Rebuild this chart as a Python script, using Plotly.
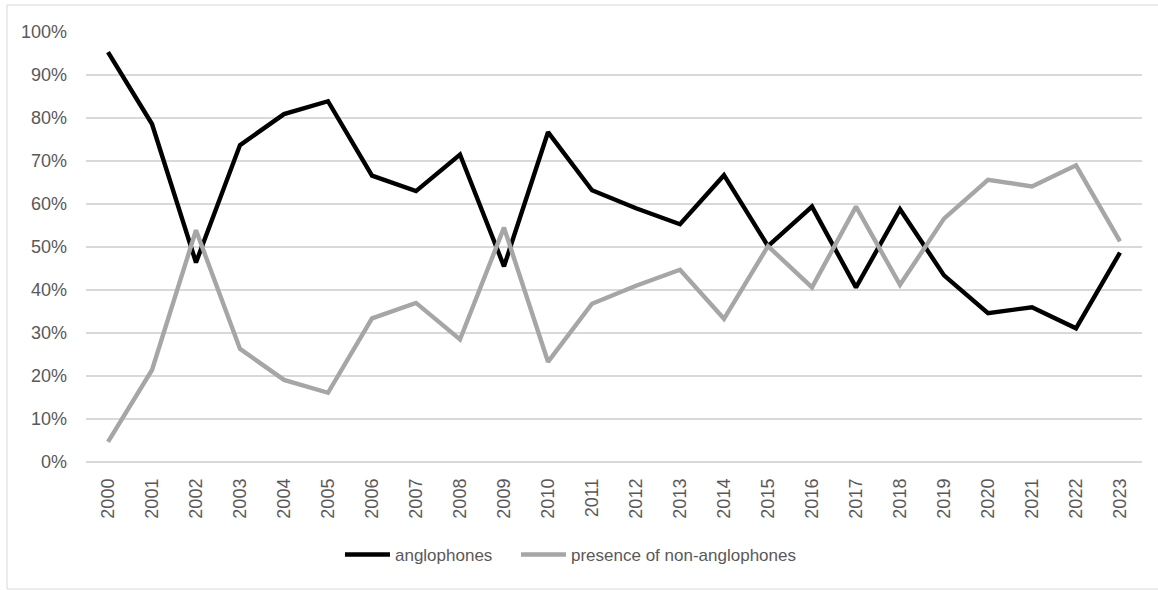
import plotly.graph_objects as go

years = [str(y) for y in range(2000, 2024)]

anglophones = [95.3, 78.6, 46.4, 73.7, 80.9, 83.9, 66.6, 63.0, 71.5, 45.5, 76.7, 63.2,
               59.0, 55.3, 66.7, 50.2, 59.4, 40.6, 58.8, 43.4, 34.6, 36.0, 31.1, 48.7]
non_anglophones = [4.7, 21.4, 53.9, 26.3, 19.1, 16.1, 33.4, 37.0, 28.5, 54.5, 23.3, 36.8,
                   41.0, 44.7, 33.3, 50.2, 40.6, 59.4, 41.2, 56.6, 65.6, 64.1, 69.0, 51.3]

y_ticks = list(range(0, 101, 10))
y_tick_labels = [f"{v}%" for v in y_ticks]

tick_font = dict(family="Liberation Sans, Arial, sans-serif", size=18, color="#595959")
legend_font = dict(family="Liberation Sans, Arial, sans-serif", size=17, color="#595959")

fig = go.Figure()
fig.add_trace(go.Scatter(
    x=years, y=anglophones, mode="lines", name="anglophones",
    line=dict(color="#000000", width=4.4), legend="legend",
))
fig.add_trace(go.Scatter(
    x=years, y=non_anglophones, mode="lines", name="presence of non-anglophones",
    line=dict(color="#a6a6a6", width=4.4), legend="legend2",
))

legend_common = dict(orientation="h", xanchor="left", y=-0.216, yanchor="middle",
                     font=legend_font, itemwidth=45)

fig.update_layout(
    width=1158, height=590,
    margin=dict(l=86, r=16, t=32, b=128),
    paper_bgcolor="white", plot_bgcolor="white",
    showlegend=True,
    legend=dict(x=0.2405, **legend_common),
    legend2=dict(x=0.4072, **legend_common),
    xaxis=dict(
        type="category", range=[-0.5, 23.5],
        tickangle=-90, tickfont=tick_font, showgrid=False, showline=False,
        ticks="", ticklabelstandoff=12, zeroline=False,
    ),
    yaxis=dict(
        range=[0, 100], tickvals=y_ticks, ticktext=y_tick_labels,
        tickfont=tick_font, showgrid=True, gridcolor="#d9d9d9", gridwidth=1.5,
        zeroline=True, zerolinecolor="#d9d9d9", zerolinewidth=1.5,
        showline=False, ticks="", ticklabelstandoff=18,
    ),
    shapes=[dict(
        type="rect", xref="paper", yref="paper",
        x0=-0.0748, x1=1.06, y0=-0.2953, y1=1.0628,
        line=dict(color="#d9d9d9", width=1), fillcolor="rgba(0,0,0,0)", layer="below",
    )],
)

fig.write_html("out.html")
